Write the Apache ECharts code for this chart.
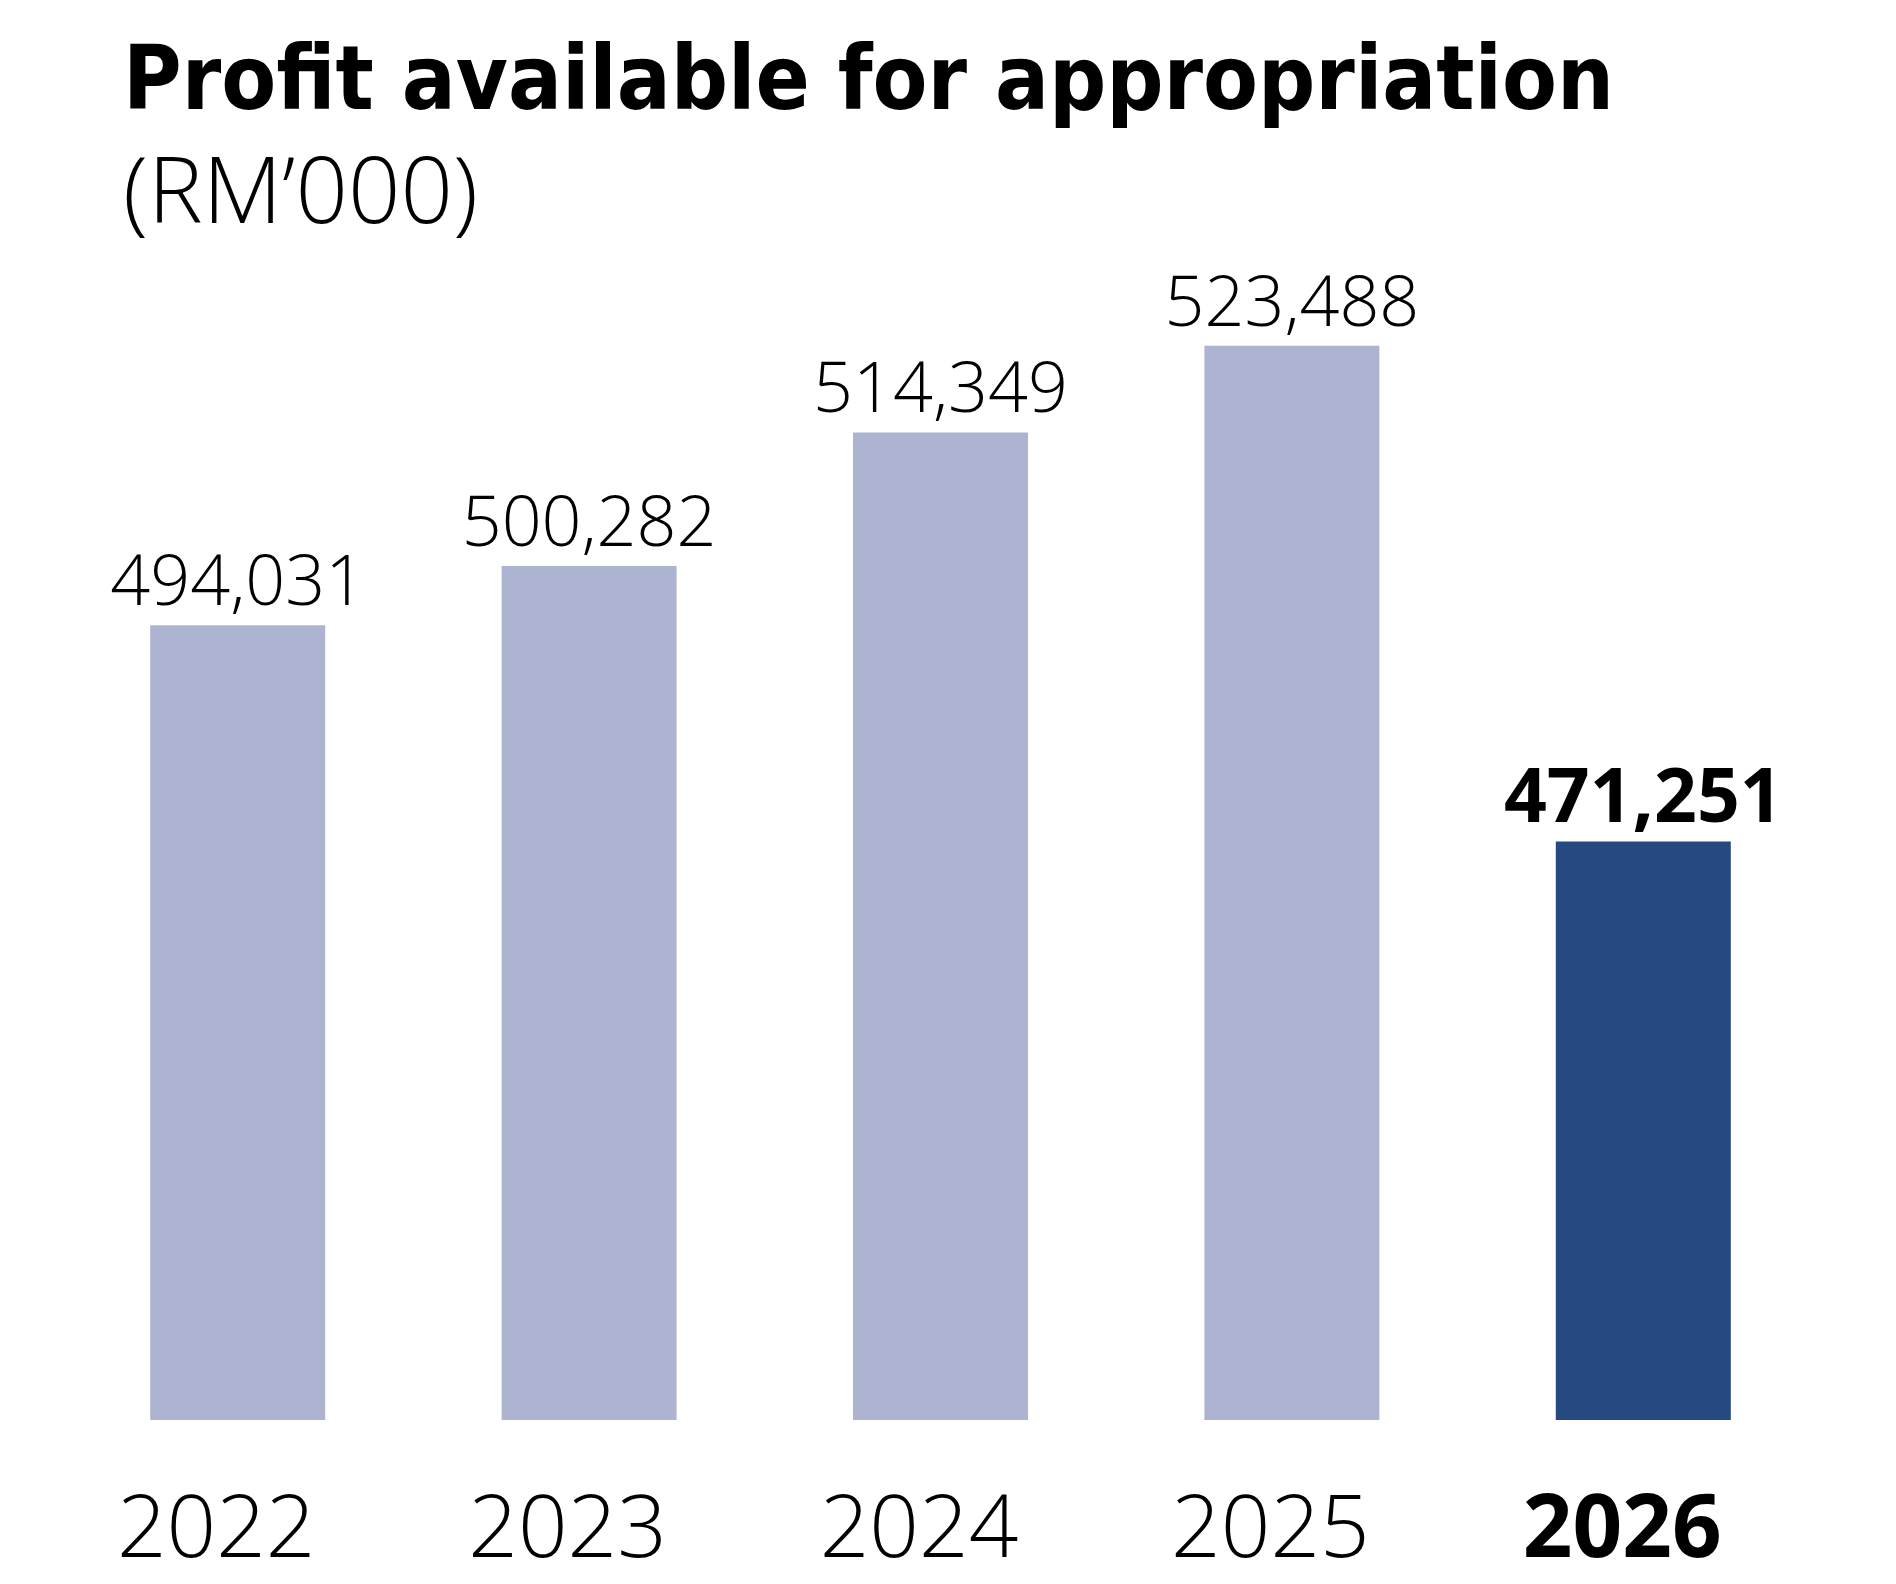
<!DOCTYPE html>
<html>
<head>
<meta charset="utf-8">
<title>Profit available for appropriation</title>
<script src="https://cdn.jsdelivr.net/npm/echarts@6/dist/echarts.min.js"></script>
<style>
	html, body { margin: 0; padding: 0; background: #fff; }
	#chart { width: 1896px; height: 1584px; }
</style>
</head>
<body>
<div id="chart"></div>
<script>
// data (RM'000)
var years = ['2022', '2023', '2024', '2025', '2026'];
var profits = [494031, 500282, 514349, 523488, 471251];
var highlightYear = '2026';

var lightBar = '#adb4d1';
var darkBar = '#274982';

function fmt(v) {
	return v.toLocaleString('en-US');
}

function bars() {
	return profits.map(function (v, i) {
		var hi = years[i] === highlightYear;
		return {
			value: v,
			itemStyle: {color: hi ? darkBar : lightBar},
			label: hi ? {fontWeight: 'bold', fontSize: 75, distance: 3} : {}
		};
	});
}

var myChart = echarts.init(document.getElementById('chart'));
var option = {
	animation: false,
	title: [
		{
			text: 'Profit available for appropriation',
			left: 118,
			top: 36,
			textStyle: {
				fontFamily: '"Liberation Sans Narrow", "DejaVu Sans Condensed", sans-serif',
				fontWeight: 'bold',
				fontSize: 89,
				color: '#000'
			}
		},
		{
			text: '(RM\u2019000)',
			left: 118,
			top: 146,
			textStyle: {
				fontFamily: '"Open Sans", sans-serif',
				fontWeight: 300,
				fontSize: 92,
				color: '#000'
			}
		}
	],
	grid: {
		left: 62,
		right: 77,
		top: 284,
		bottom: 164
	},
	xAxis: {
		type: 'category',
		data: years,
		axisLine: {show: false},
		axisTick: {show: false},
		axisLabel: {
			margin: 69,
			formatter: function (v) {
				return v === highlightYear ? '{b|' + v + '}' : '{a|' + v + '}';
			},
			rich: {
				a: {
					fontFamily: '"Open Sans", sans-serif',
					fontWeight: 300,
					fontSize: 87,
					color: '#000',
					padding: [0, 43, 0, 0]
				},
				b: {
					fontFamily: '"Open Sans", sans-serif',
					fontWeight: 'bold',
					fontSize: 87,
					color: '#000',
					padding: [0, 42, 0, 0]
				}
			}
		}
	},
	yAxis: {
		type: 'value',
		min: 410300,
		max: 530000,
		show: false,
		splitLine: {show: false}
	},
	series: [
		{
			type: 'bar',
			barWidth: 175,
			data: bars(),
			label: {
				show: true,
				position: 'top',
				distance: 5,
				fontFamily: '"Open Sans", sans-serif',
				fontWeight: 300,
				fontSize: 70,
				color: '#000',
				formatter: function (p) {
					return fmt(p.value);
				}
			}
		}
	]
};
myChart.setOption(option);
</script>
</body>
</html>
